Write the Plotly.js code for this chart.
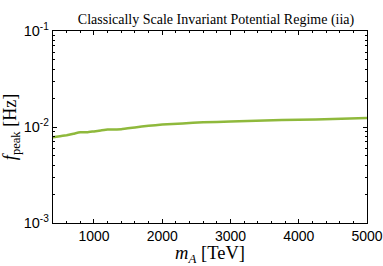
<!DOCTYPE html>
<html><head><meta charset="utf-8">
<script src="https://cdn.plot.ly/plotly-3.0.1.min.js"></script>
<style>html,body{margin:0;padding:0;background:#fff}#c{width:383px;height:266px}</style>
</head><body><div id="c"></div>
<script>
const massTeV = [400, 500, 600, 700, 800, 900, 1000, 1100, 1200, 1400, 1600, 1800, 2000, 2300, 2600, 3000, 3500, 4000, 4500, 5000];
const fPeakHz = [0.0078, 0.0080, 0.0082, 0.0085, 0.0088, 0.0088, 0.0090, 0.0092, 0.0094, 0.0095, 0.0099, 0.0103, 0.0106, 0.0109, 0.0112, 0.0114, 0.0117, 0.0119, 0.0121, 0.0124];
const yTickVals = [0.001, 0.01, 0.1];
const yTickText = ['10<sup>-3</sup>', '10<sup>-2</sup>', '10<sup>-1</sup>'];
const xTickVals = [1000, 2000, 3000, 4000, 5000];
const xTickText = ['1000', '2000', '3000', '4000', '5000'];

const serif = 'Liberation Serif, Times New Roman, serif';
const sans = 'Liberation Sans, Arial, sans-serif';

Plotly.newPlot('c', [{
  x: massTeV, y: fPeakHz, type: 'scatter', mode: 'lines',
  line: {color: '#8fb93c', width: 2.5, shape: 'spline', smoothing: 0.3},
  hoverinfo: 'skip'
}], {
  width: 383, height: 266,
  margin: {l: 53, r: 16, t: 31, b: 43},
  paper_bgcolor: '#fff', plot_bgcolor: '#fff',
  showlegend: false,
  title: {text: 'Classically Scale Invariant Potential Regime (iia)', font: {family: serif, size: 14, color: '#000'}, x: 0.564, xanchor: 'center', y: 0.93, yanchor: 'middle'},
  xaxis: {
    range: [400, 5000], tickvals: xTickVals, ticktext: xTickText,
    ticklabeloverflow: 'allow',
    ticks: 'inside', ticklen: 4, tickwidth: 1, tickcolor: '#000',
    minor: {dtick: 200, tick0: 0, ticks: 'inside', ticklen: 2, tickcolor: '#000', showgrid: false},
    showline: true, linecolor: '#000', linewidth: 1.3, mirror: 'allticks',
    showgrid: false, zeroline: false,
    tickfont: {family: sans, size: 14, color: '#000'},
    title: {text: '<i>m</i><sub><i>A</i></sub> [TeV]', font: {family: serif, size: 18.5, color: '#000'}, standoff: 2}
  },
  yaxis: {
    type: 'log', range: [-3, -1], tickvals: yTickVals, ticktext: yTickText,
    ticks: 'inside', ticklen: 4, tickwidth: 1, tickcolor: '#000',
    minor: {dtick: 'D1', ticks: 'inside', ticklen: 2, tickcolor: '#000', showgrid: false},
    showline: true, linecolor: '#000', linewidth: 1.3, mirror: 'allticks',
    showgrid: false, zeroline: false,
    tickfont: {family: sans, size: 14.5, color: '#000'},
    title: {text: '<i>f</i><sub>peak</sub> [Hz]', font: {family: serif, size: 18, color: '#000'}, standoff: 4}
  }
}, {staticPlot: true, displayModeBar: false});
</script>
</body></html>
